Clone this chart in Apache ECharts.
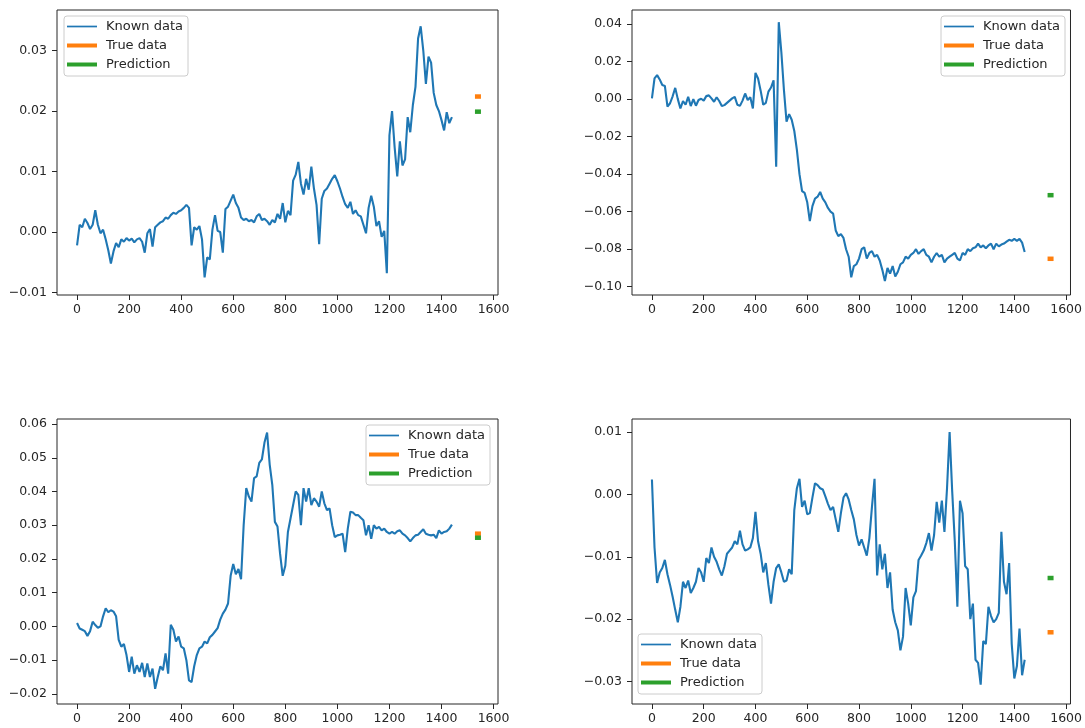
<!DOCTYPE html>
<html>
<head>
<meta charset="utf-8">
<script src="https://cdn.jsdelivr.net/npm/echarts@6/dist/echarts.min.js"></script>
<style>
  html, body { margin: 0; padding: 0; background: #fff; }
  #chart { width: 1085px; height: 728px; }
</style>
</head>
<body>
<div id="chart"></div>
<script>
// Known series are sampled every STEP steps, starting at step 0.
const STEP = 10;
// Step at which the true value and the prediction are shown.
const forecastX = 1540;

const xTicks = [0, 200, 400, 600, 800, 1000, 1200, 1400, 1600];

// Panel 1 (top left)
const knownA = [
  -0.0022, 0.0012, 0.0008, 0.0022, 0.0015, 0.0005, 0.0012, 0.0036, 0.0012, -0.0002,
  0.0004, -0.0012, -0.0030, -0.0052, -0.0032, -0.0018, -0.0025, -0.0012, -0.0016, -0.0010,
  -0.0014, -0.0011, -0.0017, -0.0012, -0.0010, -0.0016, -0.0034, -0.0002, 0.0005, -0.0024,
  0.0008, 0.0012, 0.0016, 0.0018, 0.0024, 0.0022, 0.0028, 0.0032, 0.0030, 0.0034,
  0.0036, 0.0040, 0.0045, 0.0040, -0.0022, 0.0008, 0.0004, 0.0010, -0.0012, -0.0075,
  -0.0042, -0.0045, 0.0004, 0.0028, 0.0002, 0.0000, -0.0034, 0.0038, 0.0042, 0.0052,
  0.0062, 0.0048, 0.0040, 0.0024, 0.0020, 0.0022, 0.0018, 0.0020, 0.0016, 0.0026,
  0.0030, 0.0020, 0.0022, 0.0018, 0.0012, 0.0020, 0.0016, 0.0030, 0.0022, 0.0048,
  0.0016, 0.0035, 0.0028, 0.0085, 0.0095, 0.0116, 0.0080, 0.0062, 0.0088, 0.0070,
  0.0108, 0.0072, 0.0045, -0.0020, 0.0055, 0.0068, 0.0072, 0.0080, 0.0088, 0.0094,
  0.0084, 0.0072, 0.0058, 0.0046, 0.0040, 0.0050, 0.0030, 0.0036, 0.0028, 0.0026,
  0.0012, -0.0002, 0.0040, 0.0060, 0.0042, 0.0010, 0.0018, -0.0008, 0.0002, -0.0068,
  0.0160, 0.0200, 0.0140, 0.0092, 0.0150, 0.0110, 0.0120, 0.0190, 0.0165, 0.0210,
  0.0240, 0.0320, 0.0340, 0.0300, 0.0245, 0.0290, 0.0280, 0.0230, 0.0210, 0.0200,
  0.0185, 0.0168, 0.0198, 0.0180, 0.0190
];
const trueA = 0.0224;
const predA = 0.0199;
const yTicksA = [-0.01, 0.00, 0.01, 0.02, 0.03];

// Panel 2 (top right)
const knownB = [
  0.0004, 0.0110, 0.0128, 0.0105, 0.0075, 0.0070, -0.0040, -0.0022, 0.0015, 0.0060,
  0.0000, -0.0050, -0.0010, -0.0030, 0.0012, -0.0037, 0.0000, -0.0035, -0.0005, 0.0002,
  -0.0008, 0.0016, 0.0020, 0.0004, -0.0014, 0.0010, -0.0010, -0.0037, -0.0032, -0.0020,
  -0.0008, 0.0004, 0.0012, -0.0030, -0.0036, -0.0008, 0.0030, -0.0005, 0.0010, -0.0050,
  0.0140, 0.0110, 0.0045, -0.0030, -0.0020, 0.0040, 0.0062, 0.0100, -0.0360, 0.0410,
  0.0250, 0.0048, -0.0120, -0.0080, -0.0110, -0.0170, -0.0270, -0.0400, -0.0490, -0.0500,
  -0.0550, -0.0650, -0.0570, -0.0530, -0.0520, -0.0495, -0.0530, -0.0550, -0.0580, -0.0600,
  -0.0610, -0.0700, -0.0730, -0.0720, -0.0740, -0.0800, -0.0840, -0.0950, -0.0890, -0.0880,
  -0.0850, -0.0800, -0.0790, -0.0850, -0.0820, -0.0810, -0.0840, -0.0830, -0.0860, -0.0910,
  -0.0970, -0.0900, -0.0930, -0.0890, -0.0945, -0.0920, -0.0880, -0.0870, -0.0840, -0.0850,
  -0.0830, -0.0820, -0.0800, -0.0825, -0.0810, -0.0800, -0.0830, -0.0840, -0.0870, -0.0840,
  -0.0820, -0.0840, -0.0830, -0.0870, -0.0850, -0.0840, -0.0830, -0.0820, -0.0850, -0.0860,
  -0.0820, -0.0830, -0.0800, -0.0810, -0.0795, -0.0790, -0.0770, -0.0790, -0.0780, -0.0795,
  -0.0780, -0.0770, -0.0800, -0.0770, -0.0785, -0.0775, -0.0770, -0.0760, -0.0750, -0.0755,
  -0.0745, -0.0755, -0.0745, -0.0765, -0.0815
];
const trueB = -0.0851;
const predB = -0.0512;
const yTicksB = [-0.10, -0.08, -0.06, -0.04, -0.02, 0.00, 0.02, 0.04];

// Panel 3 (bottom left)
const knownC = [
  0.0010, -0.0006, -0.0010, -0.0014, -0.0028, -0.0014, 0.0014, 0.0004, -0.0004, 0.0000,
  0.0030, 0.0054, 0.0042, 0.0048, 0.0044, 0.0030, -0.0040, -0.0060, -0.0052, -0.0085,
  -0.0135, -0.0090, -0.0140, -0.0115, -0.0135, -0.0108, -0.0150, -0.0110, -0.0150, -0.0125,
  -0.0185, -0.0150, -0.0118, -0.0130, -0.0080, -0.0140, 0.0005, -0.0010, -0.0045, -0.0030,
  -0.0060, -0.0065, -0.0100, -0.0160, -0.0165, -0.0118, -0.0085, -0.0065, -0.0060, -0.0045,
  -0.0050, -0.0032, -0.0025, -0.0015, -0.0005, 0.0020, 0.0038, 0.0050, 0.0068, 0.0150,
  0.0185, 0.0155, 0.0170, 0.0140, 0.0300, 0.0410, 0.0385, 0.0370, 0.0440, 0.0445,
  0.0485, 0.0495, 0.0545, 0.0575, 0.0480, 0.0420, 0.0310, 0.0296, 0.0215, 0.0150,
  0.0180, 0.0280, 0.0320, 0.0360, 0.0400, 0.0390, 0.0300, 0.0410, 0.0370, 0.0410,
  0.0360, 0.0380, 0.0370, 0.0355, 0.0400, 0.0365, 0.0345, 0.0350, 0.0300, 0.0265,
  0.0270, 0.0272, 0.0275, 0.0220, 0.0290, 0.0340, 0.0338, 0.0330, 0.0330, 0.0322,
  0.0315, 0.0270, 0.0300, 0.0260, 0.0300, 0.0290, 0.0295, 0.0285, 0.0290, 0.0280,
  0.0275, 0.0280, 0.0275, 0.0282, 0.0285, 0.0275, 0.0270, 0.0262, 0.0252, 0.0262,
  0.0270, 0.0272, 0.0280, 0.0288, 0.0275, 0.0272, 0.0270, 0.0272, 0.0262, 0.0285,
  0.0275, 0.0280, 0.0282, 0.0290, 0.0302
];
const trueC = 0.0275;
const predC = 0.0263;
const yTicksC = [-0.02, -0.01, 0.00, 0.01, 0.02, 0.03, 0.04, 0.05, 0.06];

// Panel 4 (bottom right)
const knownD = [
  0.0024, -0.0085, -0.0142, -0.0125, -0.0118, -0.0105, -0.0128, -0.0145, -0.0164, -0.0185,
  -0.0205, -0.0180, -0.0140, -0.0150, -0.0138, -0.0158, -0.0150, -0.0140, -0.0118, -0.0125,
  -0.0140, -0.0102, -0.0110, -0.0085, -0.0100, -0.0108, -0.0120, -0.0130, -0.0115, -0.0095,
  -0.0090, -0.0085, -0.0075, -0.0080, -0.0058, -0.0080, -0.0090, -0.0088, -0.0085, -0.0070,
  -0.0028, -0.0075, -0.0095, -0.0125, -0.0110, -0.0145, -0.0175, -0.0140, -0.0118, -0.0112,
  -0.0125, -0.0140, -0.0138, -0.0120, -0.0128, -0.0025, 0.0010, 0.0025, -0.0020, -0.0010,
  -0.0032, -0.0030, -0.0005, 0.0018, 0.0015, 0.0010, 0.0008, -0.0003, -0.0015, -0.0025,
  -0.0020, -0.0040, -0.0060, -0.0030, -0.0005, 0.0002, -0.0008, -0.0025, -0.0040, -0.0065,
  -0.0082, -0.0072, -0.0085, -0.0098, -0.0070, -0.0020, 0.0025, -0.0130, -0.0080, -0.0120,
  -0.0095, -0.0150, -0.0125, -0.0185, -0.0205, -0.0218, -0.0250, -0.0228, -0.0150, -0.0175,
  -0.0210, -0.0165, -0.0155, -0.0105, -0.0098, -0.0090, -0.0078, -0.0062, -0.0090, -0.0065,
  -0.0012, -0.0045, -0.0010, -0.0060, 0.0010, 0.0100, 0.0005, -0.0075, -0.0180, -0.0010,
  -0.0030, -0.0115, -0.0120, -0.0200, -0.0175, -0.0265, -0.0270, -0.0305, -0.0235, -0.0240,
  -0.0180, -0.0195, -0.0205, -0.0200, -0.0190, -0.0060, -0.0140, -0.0160, -0.0110, -0.0240,
  -0.0295, -0.0275, -0.0215, -0.0290, -0.0265
];
const trueD = -0.0221;
const predD = -0.0134;
const yTicksD = [-0.03, -0.02, -0.01, 0.00, 0.01];

const BLUE = '#1f77b4';
const ORANGE = '#ff7f0e';
const GREEN = '#2ca02c';
const INK = '#262626';
const FONT = 'DejaVu Sans';

// Layout of the four panels: plot rectangle, y range and legend anchor.
const panels = [
  { known: knownA, truth: trueA, pred: predA, ticks: yTicksA,
    grid: { left: 57, top: 10, width: 441, height: 285 }, y: [-0.0104, 0.0367], legend: [64, 16] },
  { known: knownB, truth: trueB, pred: predB, ticks: yTicksB,
    grid: { left: 632, top: 10, width: 440, height: 285 }, y: [-0.1044, 0.0475], legend: [941, 16] },
  { known: knownC, truth: trueC, pred: predC, ticks: yTicksC,
    grid: { left: 57, top: 419, width: 441, height: 285 }, y: [-0.0230, 0.0615], legend: [366, 425] },
  { known: knownD, truth: trueD, pred: predD, ticks: yTicksD,
    grid: { left: 632, top: 419, width: 440, height: 285 }, y: [-0.0336, 0.0121], legend: [638, 634] }
];

const fmtY = v => (v < 0 ? '\u2212' : '') + Math.abs(v).toFixed(2);
const fmtX = v => String(Math.round(v));

const option = {
  animation: false,
  backgroundColor: '#fff',
  textStyle: { fontFamily: FONT },
  grid: panels.map(p => Object.assign({
    show: true, borderColor: INK, borderWidth: 1, backgroundColor: 'transparent'
  }, p.grid)),
  xAxis: panels.map((p, i) => ({
    type: 'value', gridIndex: i, min: -77, max: 1617, position: 'bottom',
    axisLine: { show: false, onZero: false },
    splitLine: { show: false },
    axisTick: { show: true, length: 5, customValues: xTicks, lineStyle: { color: INK, width: 1 } },
    axisLabel: { customValues: xTicks, margin: 8, color: INK, fontSize: 12.5, fontFamily: FONT,
                 formatter: fmtX }
  })),
  yAxis: panels.map((p, i) => ({
    type: 'value', gridIndex: i, min: p.y[0], max: p.y[1], position: 'left',
    axisLine: { show: false, onZero: false },
    splitLine: { show: false },
    axisTick: { show: true, length: 5, customValues: p.ticks, lineStyle: { color: INK, width: 1 } },
    axisLabel: { customValues: p.ticks, margin: 10, color: INK, fontSize: 12.5, fontFamily: FONT,
                 formatter: fmtY }
  })),
  legend: panels.map(p => ({
    orient: 'vertical', left: p.legend[0], top: p.legend[1],
    itemWidth: 30, itemHeight: 14, itemGap: 6,
    padding: [4, 5, 5, 3],
    backgroundColor: 'rgba(255,255,255,0.8)',
    borderColor: '#cccccc', borderWidth: 1, borderRadius: 3,
    selectedMode: false,
    textStyle: { color: INK, fontSize: 13, fontFamily: FONT, padding: [0, 0, 0, 4] },
    data: [
      { name: 'Known data', icon: 'path://M0 0H30V1.7H0Z',
        itemStyle: { color: BLUE, borderWidth: 0, opacity: 1 } },
      { name: 'True data', icon: 'path://M0 0H30V4H0Z',
        itemStyle: { color: ORANGE, borderWidth: 0, opacity: 1 } },
      { name: 'Prediction', icon: 'path://M0 0H30V4H0Z',
        itemStyle: { color: GREEN, borderWidth: 0, opacity: 1 } }
    ]
  })),
  series: []
};

panels.forEach((p, i) => {
  option.series.push({
    name: 'Known data', type: 'line', xAxisIndex: i, yAxisIndex: i,
    data: p.known.map((v, k) => [k * STEP, v]),
    showSymbol: false, symbol: 'none',
    lineStyle: { color: BLUE, width: 2.1 }, itemStyle: { color: BLUE }
  });
  option.series.push({
    name: 'True data', type: 'scatter', xAxisIndex: i, yAxisIndex: i,
    data: [[forecastX, p.truth]],
    symbol: 'rect', symbolSize: [6, 4.5], itemStyle: { color: ORANGE, opacity: 1 }
  });
  option.series.push({
    name: 'Prediction', type: 'scatter', xAxisIndex: i, yAxisIndex: i,
    data: [[forecastX, p.pred]],
    symbol: 'rect', symbolSize: [6, 4.5], itemStyle: { color: GREEN, opacity: 1 }
  });
});

const chart = echarts.init(document.getElementById('chart'), null, { renderer: 'canvas' });
chart.setOption(option);
</script>
</body>
</html>
